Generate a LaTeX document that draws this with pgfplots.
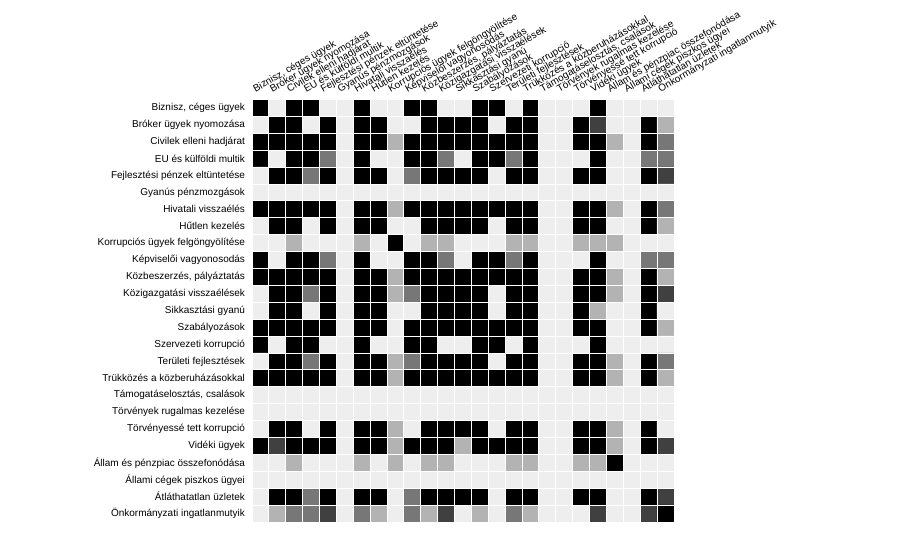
\documentclass[border=0pt]{standalone}
\usepackage{fontspec}
\setmainfont{Liberation Sans}
\usepackage{pgfplots}
\pgfplotsset{compat=1.18}
\begin{document}
\begin{tikzpicture}
\path[use as bounding box] (0,0) rectangle (911pt,539pt);
\begin{axis}[
  at={(252pt,17pt)}, anchor=south west,
  scale only axis, width=422pt, height=422.5pt,
  xmin=-0.5, xmax=24.5, ymin=-0.5, ymax=24.5,
  y dir=reverse,
  axis on top,
  axis line style={draw=none},
  major tick length=0pt, minor tick length=0pt,
  xtick={0,...,24}, ytick={0,...,24},
  minor xtick={-0.5,0.5,...,24.5}, minor ytick={-0.5,0.5,...,24.5},
  grid=minor, minor grid style={white, line width=1pt},
  major grid style={draw=none},
  colormap={cooc}{rgb255=(238,238,238) rgb255=(179,179,179) rgb255=(119,119,119) rgb255=(64,64,64) rgb255=(0,0,0)},
  point meta min=0, point meta max=4,
  xticklabel pos=upper,
  yticklabels={{Biznisz, céges ügyek},{Bróker ügyek nyomozása},{Civilek elleni hadjárat},{EU és külföldi multik},{Fejlesztési pénzek eltüntetése},{Gyanús pénzmozgások},{Hivatali visszaélés},{Hűtlen kezelés},{Korrupciós ügyek felgöngyölítése},{Képviselői vagyonosodás},{Közbeszerzés, pályáztatás},{Közigazgatási visszaélések},{Sikkasztási gyanú},{Szabályozások},{Szervezeti korrupció},{Területi fejlesztések},{Trükközés a közberuházásokkal},{Támogatáselosztás, csalások},{Törvények rugalmas kezelése},{Törvényessé tett korrupció},{Vidéki ügyek},{Állam és pénzpiac összefonódása},{Állami cégek piszkos ügyei},{Átláthatatlan üzletek},{Önkormányzati ingatlanmutyik}},
  xticklabels={{Biznisz, céges ügyek},{Bróker ügyek nyomozása},{Civilek elleni hadjárat},{EU és külföldi multik},{Fejlesztési pénzek eltüntetése},{Gyanús pénzmozgások},{Hivatali visszaélés},{Hűtlen kezelés},{Korrupciós ügyek felgöngyölítése},{Képviselői vagyonosodás},{Közbeszerzés, pályáztatás},{Közigazgatási visszaélések},{Sikkasztási gyanú},{Szabályozások},{Szervezeti korrupció},{Területi fejlesztések},{Trükközés a közberuházásokkal},{Támogatáselosztás, csalások},{Törvények rugalmas kezelése},{Törvényessé tett korrupció},{Vidéki ügyek},{Állam és pénzpiac összefonódása},{Állami cégek piszkos ügyei},{Átláthatatlan üzletek},{Önkormányzati ingatlanmutyik}},
  yticklabel style={font=\fontsize{10}{12}\selectfont, xshift=-3.5pt},
  xticklabel style={font=\fontsize{10}{12}\selectfont, inner sep=0pt, anchor=base west, xshift=-5pt, yshift=7pt, rotate=30},
]
\addplot[matrix plot*, mesh/cols=25, point meta=explicit] coordinates {
(0,0)[4] (1,0)[0] (2,0)[4] (3,0)[4] (4,0)[0] (5,0)[0] (6,0)[4] (7,0)[0] (8,0)[0] (9,0)[4] (10,0)[4] (11,0)[0] (12,0)[0] (13,0)[4] (14,0)[4] (15,0)[0] (16,0)[4] (17,0)[0] (18,0)[0] (19,0)[0] (20,0)[4] (21,0)[0] (22,0)[0] (23,0)[0] (24,0)[0]
(0,1)[0] (1,1)[4] (2,1)[4] (3,1)[0] (4,1)[4] (5,1)[0] (6,1)[4] (7,1)[4] (8,1)[0] (9,1)[0] (10,1)[4] (11,1)[4] (12,1)[4] (13,1)[4] (14,1)[0] (15,1)[4] (16,1)[4] (17,1)[0] (18,1)[0] (19,1)[4] (20,1)[3] (21,1)[0] (22,1)[0] (23,1)[4] (24,1)[1]
(0,2)[4] (1,2)[4] (2,2)[4] (3,2)[4] (4,2)[4] (5,2)[0] (6,2)[4] (7,2)[4] (8,2)[1] (9,2)[4] (10,2)[4] (11,2)[4] (12,2)[4] (13,2)[4] (14,2)[4] (15,2)[4] (16,2)[4] (17,2)[0] (18,2)[0] (19,2)[4] (20,2)[4] (21,2)[1] (22,2)[0] (23,2)[4] (24,2)[2]
(0,3)[4] (1,3)[0] (2,3)[4] (3,3)[4] (4,3)[2] (5,3)[0] (6,3)[4] (7,3)[0] (8,3)[0] (9,3)[4] (10,3)[4] (11,3)[2] (12,3)[0] (13,3)[4] (14,3)[4] (15,3)[2] (16,3)[4] (17,3)[0] (18,3)[0] (19,3)[0] (20,3)[4] (21,3)[0] (22,3)[0] (23,3)[2] (24,3)[2]
(0,4)[0] (1,4)[4] (2,4)[4] (3,4)[2] (4,4)[4] (5,4)[0] (6,4)[4] (7,4)[4] (8,4)[0] (9,4)[2] (10,4)[4] (11,4)[4] (12,4)[4] (13,4)[4] (14,4)[0] (15,4)[4] (16,4)[4] (17,4)[0] (18,4)[0] (19,4)[4] (20,4)[4] (21,4)[0] (22,4)[0] (23,4)[4] (24,4)[3]
(0,5)[0] (1,5)[0] (2,5)[0] (3,5)[0] (4,5)[0] (5,5)[0] (6,5)[0] (7,5)[0] (8,5)[0] (9,5)[0] (10,5)[0] (11,5)[0] (12,5)[0] (13,5)[0] (14,5)[0] (15,5)[0] (16,5)[0] (17,5)[0] (18,5)[0] (19,5)[0] (20,5)[0] (21,5)[0] (22,5)[0] (23,5)[0] (24,5)[0]
(0,6)[4] (1,6)[4] (2,6)[4] (3,6)[4] (4,6)[4] (5,6)[0] (6,6)[4] (7,6)[4] (8,6)[1] (9,6)[4] (10,6)[4] (11,6)[4] (12,6)[4] (13,6)[4] (14,6)[4] (15,6)[4] (16,6)[4] (17,6)[0] (18,6)[0] (19,6)[4] (20,6)[4] (21,6)[1] (22,6)[0] (23,6)[4] (24,6)[2]
(0,7)[0] (1,7)[4] (2,7)[4] (3,7)[0] (4,7)[4] (5,7)[0] (6,7)[4] (7,7)[4] (8,7)[0] (9,7)[0] (10,7)[4] (11,7)[4] (12,7)[4] (13,7)[4] (14,7)[0] (15,7)[4] (16,7)[4] (17,7)[0] (18,7)[0] (19,7)[4] (20,7)[4] (21,7)[0] (22,7)[0] (23,7)[4] (24,7)[1]
(0,8)[0] (1,8)[0] (2,8)[1] (3,8)[0] (4,8)[0] (5,8)[0] (6,8)[1] (7,8)[0] (8,8)[4] (9,8)[0] (10,8)[1] (11,8)[1] (12,8)[0] (13,8)[0] (14,8)[0] (15,8)[1] (16,8)[1] (17,8)[0] (18,8)[0] (19,8)[1] (20,8)[1] (21,8)[1] (22,8)[0] (23,8)[0] (24,8)[0]
(0,9)[4] (1,9)[0] (2,9)[4] (3,9)[4] (4,9)[2] (5,9)[0] (6,9)[4] (7,9)[0] (8,9)[0] (9,9)[4] (10,9)[4] (11,9)[2] (12,9)[0] (13,9)[4] (14,9)[4] (15,9)[2] (16,9)[4] (17,9)[0] (18,9)[0] (19,9)[0] (20,9)[4] (21,9)[0] (22,9)[0] (23,9)[2] (24,9)[2]
(0,10)[4] (1,10)[4] (2,10)[4] (3,10)[4] (4,10)[4] (5,10)[0] (6,10)[4] (7,10)[4] (8,10)[1] (9,10)[4] (10,10)[4] (11,10)[4] (12,10)[4] (13,10)[4] (14,10)[4] (15,10)[4] (16,10)[4] (17,10)[0] (18,10)[0] (19,10)[4] (20,10)[4] (21,10)[1] (22,10)[0] (23,10)[4] (24,10)[1]
(0,11)[0] (1,11)[4] (2,11)[4] (3,11)[2] (4,11)[4] (5,11)[0] (6,11)[4] (7,11)[4] (8,11)[1] (9,11)[2] (10,11)[4] (11,11)[4] (12,11)[4] (13,11)[4] (14,11)[0] (15,11)[4] (16,11)[4] (17,11)[0] (18,11)[0] (19,11)[4] (20,11)[4] (21,11)[1] (22,11)[0] (23,11)[4] (24,11)[3]
(0,12)[0] (1,12)[4] (2,12)[4] (3,12)[0] (4,12)[4] (5,12)[0] (6,12)[4] (7,12)[4] (8,12)[0] (9,12)[0] (10,12)[4] (11,12)[4] (12,12)[4] (13,12)[4] (14,12)[0] (15,12)[4] (16,12)[4] (17,12)[0] (18,12)[0] (19,12)[4] (20,12)[1] (21,12)[0] (22,12)[0] (23,12)[4] (24,12)[0]
(0,13)[4] (1,13)[4] (2,13)[4] (3,13)[4] (4,13)[4] (5,13)[0] (6,13)[4] (7,13)[4] (8,13)[0] (9,13)[4] (10,13)[4] (11,13)[4] (12,13)[4] (13,13)[4] (14,13)[4] (15,13)[4] (16,13)[4] (17,13)[0] (18,13)[0] (19,13)[4] (20,13)[4] (21,13)[0] (22,13)[0] (23,13)[4] (24,13)[1]
(0,14)[4] (1,14)[0] (2,14)[4] (3,14)[4] (4,14)[0] (5,14)[0] (6,14)[4] (7,14)[0] (8,14)[0] (9,14)[4] (10,14)[4] (11,14)[0] (12,14)[0] (13,14)[4] (14,14)[4] (15,14)[0] (16,14)[4] (17,14)[0] (18,14)[0] (19,14)[0] (20,14)[4] (21,14)[0] (22,14)[0] (23,14)[0] (24,14)[0]
(0,15)[0] (1,15)[4] (2,15)[4] (3,15)[2] (4,15)[4] (5,15)[0] (6,15)[4] (7,15)[4] (8,15)[1] (9,15)[2] (10,15)[4] (11,15)[4] (12,15)[4] (13,15)[4] (14,15)[0] (15,15)[4] (16,15)[4] (17,15)[0] (18,15)[0] (19,15)[4] (20,15)[4] (21,15)[1] (22,15)[0] (23,15)[4] (24,15)[2]
(0,16)[4] (1,16)[4] (2,16)[4] (3,16)[4] (4,16)[4] (5,16)[0] (6,16)[4] (7,16)[4] (8,16)[1] (9,16)[4] (10,16)[4] (11,16)[4] (12,16)[4] (13,16)[4] (14,16)[4] (15,16)[4] (16,16)[4] (17,16)[0] (18,16)[0] (19,16)[4] (20,16)[4] (21,16)[1] (22,16)[0] (23,16)[4] (24,16)[1]
(0,17)[0] (1,17)[0] (2,17)[0] (3,17)[0] (4,17)[0] (5,17)[0] (6,17)[0] (7,17)[0] (8,17)[0] (9,17)[0] (10,17)[0] (11,17)[0] (12,17)[0] (13,17)[0] (14,17)[0] (15,17)[0] (16,17)[0] (17,17)[0] (18,17)[0] (19,17)[0] (20,17)[0] (21,17)[0] (22,17)[0] (23,17)[0] (24,17)[0]
(0,18)[0] (1,18)[0] (2,18)[0] (3,18)[0] (4,18)[0] (5,18)[0] (6,18)[0] (7,18)[0] (8,18)[0] (9,18)[0] (10,18)[0] (11,18)[0] (12,18)[0] (13,18)[0] (14,18)[0] (15,18)[0] (16,18)[0] (17,18)[0] (18,18)[0] (19,18)[0] (20,18)[0] (21,18)[0] (22,18)[0] (23,18)[0] (24,18)[0]
(0,19)[0] (1,19)[4] (2,19)[4] (3,19)[0] (4,19)[4] (5,19)[0] (6,19)[4] (7,19)[4] (8,19)[1] (9,19)[0] (10,19)[4] (11,19)[4] (12,19)[4] (13,19)[4] (14,19)[0] (15,19)[4] (16,19)[4] (17,19)[0] (18,19)[0] (19,19)[4] (20,19)[4] (21,19)[1] (22,19)[0] (23,19)[4] (24,19)[0]
(0,20)[4] (1,20)[3] (2,20)[4] (3,20)[4] (4,20)[4] (5,20)[0] (6,20)[4] (7,20)[4] (8,20)[1] (9,20)[4] (10,20)[4] (11,20)[4] (12,20)[1] (13,20)[4] (14,20)[4] (15,20)[4] (16,20)[4] (17,20)[0] (18,20)[0] (19,20)[4] (20,20)[4] (21,20)[1] (22,20)[0] (23,20)[4] (24,20)[3]
(0,21)[0] (1,21)[0] (2,21)[1] (3,21)[0] (4,21)[0] (5,21)[0] (6,21)[1] (7,21)[0] (8,21)[1] (9,21)[0] (10,21)[1] (11,21)[1] (12,21)[0] (13,21)[0] (14,21)[0] (15,21)[1] (16,21)[1] (17,21)[0] (18,21)[0] (19,21)[1] (20,21)[1] (21,21)[4] (22,21)[0] (23,21)[0] (24,21)[0]
(0,22)[0] (1,22)[0] (2,22)[0] (3,22)[0] (4,22)[0] (5,22)[0] (6,22)[0] (7,22)[0] (8,22)[0] (9,22)[0] (10,22)[0] (11,22)[0] (12,22)[0] (13,22)[0] (14,22)[0] (15,22)[0] (16,22)[0] (17,22)[0] (18,22)[0] (19,22)[0] (20,22)[0] (21,22)[0] (22,22)[0] (23,22)[0] (24,22)[0]
(0,23)[0] (1,23)[4] (2,23)[4] (3,23)[2] (4,23)[4] (5,23)[0] (6,23)[4] (7,23)[4] (8,23)[0] (9,23)[2] (10,23)[4] (11,23)[4] (12,23)[4] (13,23)[4] (14,23)[0] (15,23)[4] (16,23)[4] (17,23)[0] (18,23)[0] (19,23)[4] (20,23)[4] (21,23)[0] (22,23)[0] (23,23)[4] (24,23)[3]
(0,24)[0] (1,24)[1] (2,24)[2] (3,24)[2] (4,24)[3] (5,24)[0] (6,24)[2] (7,24)[1] (8,24)[0] (9,24)[2] (10,24)[1] (11,24)[3] (12,24)[0] (13,24)[1] (14,24)[0] (15,24)[2] (16,24)[1] (17,24)[0] (18,24)[0] (19,24)[0] (20,24)[3] (21,24)[0] (22,24)[0] (23,24)[3] (24,24)[4]
};
\end{axis}
\end{tikzpicture}
\end{document}
